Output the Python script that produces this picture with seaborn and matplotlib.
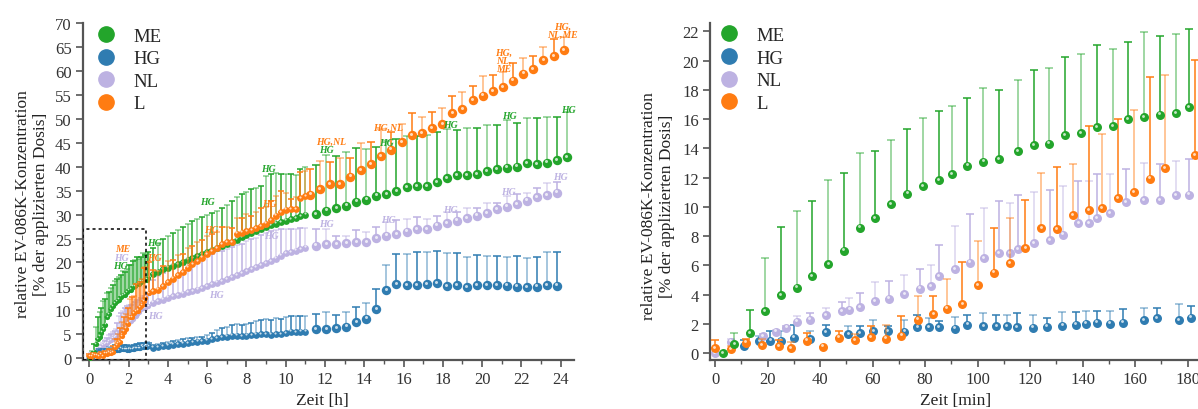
import matplotlib
matplotlib.use('Agg')
import matplotlib.pyplot as plt
import matplotlib.transforms as mtransforms
from matplotlib.lines import Line2D
from matplotlib.patches import Rectangle
from matplotlib.ticker import MultipleLocator
import numpy as np
import pandas as pd
import seaborn as sns

# ---------------- data: first 3 h (minutes) ----------------
me_t = [3.0, 7.4, 13.2, 18.9, 25.1, 31.1, 37.0, 43.2, 49.1, 55.1, 61.0, 67.1, 73.3, 79.1, 85.2, 90.2,
        96.1, 102.2, 108.1, 115.2, 121.3, 127.3, 133.1, 139.2, 145.4, 151.4, 157.2, 163.5, 169.4, 175.4, 180.5]
me_v = [0.0, 0.64, 1.37, 2.89, 3.96, 4.48, 5.28, 6.08, 7.01, 8.58, 9.24, 10.18, 10.9, 11.43, 11.84, 12.25,
        12.81, 13.09, 13.27, 13.8, 14.2, 14.32, 14.91, 15.05, 15.46, 15.53, 16.0, 16.14, 16.3, 16.39, 16.8]
me_e = [0.0, 0.77, 1.59, 3.62, 4.69, 5.24, 5.15, 5.78, 5.28, 5.12, 4.6, 4.41, 4.4, 4.64, 4.69, 4.66,
        4.65, 5.05, 4.73, 4.89, 5.17, 5.18, 5.31, 5.4, 5.58, 5.28, 5.24, 5.79, 5.35, 5.4, 5.33]

hg_t = [10.9, 16.9, 21.1, 25.1, 30.1, 36.3, 42.3, 50.8, 55.1, 60.3, 66.0, 72.1, 77.1, 81.4, 85.2, 91.3,
        96.1, 102.2, 107.2, 111.3, 115.1, 121.2, 126.3, 132.3, 137.4, 141.3, 145.5, 150.3, 155.4, 163.5,
        168.4, 176.6, 181.4]
hg_v = [0.52, 0.82, 0.86, 0.86, 1.07, 0.96, 1.45, 1.32, 1.39, 1.5, 1.5, 1.48, 1.78, 1.78, 1.78, 1.69,
        1.96, 1.87, 1.87, 1.85, 1.78, 1.76, 1.82, 1.89, 1.96, 2.03, 2.1, 2.01, 2.1, 2.28, 2.41, 2.26, 2.44]
hg_e = [0.38, 0.38, 0.64, 0.69, 0.84, 0.54, 0.48, 0.55, 0.48, 0.74, 0.39, 0.77, 0.86, 0.61, 0.45, 0.77,
        0.64, 0.86, 0.77, 0.75, 0.95, 0.84, 0.61, 0.91, 0.84, 0.84, 0.79, 0.88, 0.95, 0.79, 0.7, 1.13, 0.77]

nl_t = [0.0, 6.1, 18.2, 23.1, 27.2, 31.1, 36.2, 42.2, 48.2, 51.2, 55.1, 61.0, 66.2, 72.1, 78.1, 82.1,
        85.2, 91.4, 97.1, 102.3, 108.2, 112.2, 115.2, 121.3, 127.4, 132.4, 138.4, 142.4, 145.4, 150.3,
        156.4, 163.5, 169.4, 175.4, 180.5]
nl_v = [0.0, 0.8, 1.16, 1.48, 1.75, 2.16, 2.3, 2.62, 2.87, 2.98, 3.14, 3.57, 3.72, 4.05, 4.41, 4.57,
        5.26, 5.74, 6.19, 6.5, 6.85, 6.85, 7.12, 7.51, 7.72, 8.1, 8.88, 8.88, 9.24, 9.56, 10.33, 10.45,
        10.45, 10.81, 10.84]
nl_e = [0.0, 0.2, 0.14, 0.1, 0.1, 0.41, 0.43, 0.45, 0.61, 0.82, 1.0, 1.29, 1.22, 1.32, 1.33, 1.49,
        2.14, 2.98, 3.3, 3.45, 3.58, 3.42, 3.67, 3.53, 3.46, 3.31, 2.92, 2.92, 2.98, 2.66, 2.24, 2.57,
        2.5, 2.35, 2.41]

l_t = [0.0, 6.1, 11.8, 18.0, 24.2, 29.0, 35.1, 41.2, 47.2, 53.2, 59.3, 65.0, 71.0, 77.2, 83.2, 88.2,
       94.2, 100.2, 106.3, 112.4, 118.2, 124.3, 130.3, 136.3, 142.4, 147.2, 153.4, 159.4, 165.5, 171.2, 182.9]
l_v = [0.36, 0.29, 0.73, 0.55, 0.5, 0.34, 0.86, 0.45, 1.07, 0.91, 1.1, 0.99, 1.2, 2.3, 2.68, 3.05,
       3.35, 4.64, 5.5, 6.15, 7.19, 8.54, 8.49, 9.45, 9.77, 9.9, 10.61, 11.0, 11.93, 12.66, 13.52]
l_e = [0.55, 0.2, 0.27, 0.45, 0.4, 0.46, 0.51, 0.0, 0.45, 0.39, 0.77, 0.94, 1.37, 1.64, 1.22, 2.02,
       2.86, 3.01, 3.08, 3.07, 3.26, 3.76, 4.23, 3.5, 5.78, 5.08, 5.37, 5.64, 6.97, 6.34, 6.54]

# ---------------- data: 3-11 h (hours, 15 min steps) ----------------
t_mid = [3.25, 3.5, 3.75, 4.0, 4.25, 4.5, 4.75, 5.0, 5.25, 5.5, 5.75, 6.0, 6.25, 6.5, 6.75, 7.0,
         7.25, 7.5, 7.75, 8.0, 8.25, 8.5, 8.75, 9.0, 9.25, 9.5, 9.75, 10.0, 10.25, 10.5, 10.75, 11.0]
me_mid = [17.6, 18.1, 18.6, 18.9, 19.3, 19.7, 20.1, 20.6, 20.9, 21.3, 21.7, 22.2, 22.7, 23.1, 23.5, 23.8,
          24.3, 24.8, 25.3, 25.8, 26.1, 26.6, 27.0, 27.4, 27.8, 28.1, 28.4, 28.7, 29.0, 29.3, 29.7, 30.0]
me_mid_e = [5.4, 5.9, 6.4, 6.7, 6.9, 7.1, 7.3, 7.4, 7.7, 7.7, 7.8, 7.7, 7.7, 7.7, 7.8, 8.2,
            8.5, 8.8, 9.0, 9.0, 9.2, 9.0, 9.0, 10.6, 10.8, 10.6, 10.2, 9.8, 9.4, 9.0, 9.8, 10.0]
hg_mid = [2.2, 2.3, 2.5, 2.6, 2.8, 2.9, 3.0, 3.1, 3.3, 3.4, 3.5, 3.6, 3.9, 4.2, 4.4, 4.5,
          4.7, 4.7, 4.6, 4.7, 4.8, 4.9, 5.0, 5.0, 4.9, 5.0, 5.0, 5.2, 5.5, 5.4, 5.5, 5.5]
hg_mid_e = [0.5, 0.6, 0.6, 0.7, 0.8, 0.8, 0.9, 1.0, 0.9, 1.1, 1.0, 1.2, 1.4, 1.6, 1.8, 2.0,
            2.3, 2.4, 2.3, 2.4, 2.6, 2.8, 3.0, 3.2, 3.0, 3.3, 3.1, 3.3, 3.4, 3.3, 3.3, 3.3]
nl_mid = [11.6, 11.9, 12.2, 12.6, 13.0, 13.2, 13.5, 13.8, 14.0, 14.3, 14.6, 15.0, 15.4, 15.8, 16.1, 16.5,
          16.9, 17.3, 17.7, 18.2, 18.6, 19.0, 19.4, 19.8, 20.3, 20.8, 21.4, 21.9, 22.2, 22.5, 22.8, 23.1]
nl_mid_e = [4.8, 5.2, 5.6, 6.0, 6.0, 6.2, 6.0, 6.4, 6.3, 6.5, 6.2, 6.4, 6.3, 6.5, 6.2, 6.4,
            6.3, 6.4, 6.2, 6.3, 6.4, 6.2, 6.3, 6.4, 6.2, 6.0, 5.5, 5.2, 4.8, 4.6, 4.4, 4.2]
l_mid = [14.0, 14.3, 15.0, 15.9, 16.6, 17.3, 18.0, 18.9, 19.6, 20.3, 21.0, 21.7, 22.4, 23.0, 23.8, 24.3,
         24.3, 26.0, 26.2, 26.5, 26.7, 27.2, 27.6, 28.1, 28.9, 29.8, 30.5, 31.0, 31.2, 31.2, 33.5, 33.8]
l_mid_e = [4.5, 4.0, 4.2, 4.5, 4.0, 4.3, 3.8, 4.2, 3.9, 4.0, 3.6, 3.8, 3.5, 3.3, 3.6, 3.2,
           3.0, 3.4, 3.2, 3.6, 3.0, 3.4, 3.8, 3.6, 4.0, 4.2, 4.5, 3.5, 2.0, 2.5, 5.5, 5.3]

# ---------------- data: 11.5-24.4 h (hours, 30 min steps) ----------------
t_late = [11.55, 12.07, 12.58, 13.09, 13.6, 14.11, 14.62, 15.13, 15.64, 16.15, 16.66, 17.17, 17.68,
          18.19, 18.7, 19.21, 19.72, 20.23, 20.74, 21.25, 21.76, 22.27, 22.78, 23.29, 23.8, 24.31]
t_late_l = [11.26, 11.76, 12.27, 12.78, 13.29, 13.81, 14.32, 14.83, 15.34, 15.9, 16.42, 16.93, 17.46,
            17.98, 18.49, 19.0, 19.52, 20.03, 20.54, 21.05, 21.58, 22.1, 22.6, 23.12, 23.65, 24.18]
me_late = [30.1, 30.8, 31.3, 31.9, 32.7, 33.1, 33.95, 34.3, 34.9, 35.8, 36.0, 36.0, 36.8,
           37.6, 38.3, 38.3, 38.4, 39.1, 39.5, 39.8, 40.0, 40.7, 40.6, 40.9, 41.4, 42.0]
me_late_e = [10.3, 11.7, 11.0, 11.1, 11.2, 10.6, 10.25, 11.2, 10.9, 10.7, 10.5, 10.6, 10.4,
             10.3, 9.5, 9.8, 9.7, 9.7, 9.3, 10.0, 9.2, 9.5, 9.6, 9.6, 9.1, 9.4]
hg_late = [6.1, 6.1, 6.3, 6.6, 7.5, 8.2, 10.2, 14.2, 15.5, 15.3, 15.3, 15.5, 15.6,
           15.0, 15.3, 14.8, 15.3, 15.3, 15.3, 15.1, 14.9, 14.8, 14.9, 15.2, 15.1]
hg_late_e = [3.2, 3.5, 2.8, 3.1, 3.2, 3.3, 4.2, 5.3, 6.2, 6.4, 6.9, 6.7, 6.7,
             6.9, 6.6, 6.3, 6.3, 6.1, 6.1, 6.1, 6.4, 6.2, 6.2, 6.9, 7.1]
nl_late = [23.5, 23.8, 23.8, 24.0, 24.3, 24.3, 25.1, 25.6, 25.9, 26.4, 27.0, 27.0, 27.7,
           28.2, 28.7, 29.2, 29.8, 30.3, 31.2, 31.7, 32.2, 32.9, 33.7, 34.1, 34.6]
nl_late_e = [3.5, 3.2, 1.8, 1.6, 2.5, 2.1, 2.4, 2.9, 2.9, 2.7, 2.5, 2.1, 2.1,
             2.4, 1.9, 2.1, 1.5, 2.1, 1.2, 2.2, 2.2, 1.6, 1.8, 2.5, 2.3]
l_late = [34.2, 35.3, 36.4, 36.4, 37.9, 39.3, 40.6, 42.2, 43.6, 45.1, 46.6, 47.0, 48.1,
          48.9, 51.2, 52.1, 54.0, 54.9, 55.8, 56.7, 58.0, 59.5, 60.4, 62.3, 63.2, 64.4]
l_late_e = [5.3, 6.0, 4.7, 5.4, 3.9, 5.6, 4.6, 5.8, 3.7, 3.8, 4.6, 3.5, 3.3,
            3.5, 3.7, 3.5, 3.0, 4.1, 3.4, 3.1, 3.8, 3.2, 2.8, 2.8, 3.5, 2.7]

gruppen = ['ME', 'HG', 'NL', 'L']
farben = {'ME': '#23a52b', 'HG': '#2f7cb1', 'NL': '#bdb2e2', 'L': '#ff7c12'}

# Signifikanzen (Text, x, y, Gruppe fuer die Farbe)
sig_links = [('ME', 1.68, 23.0, 'L'), ('HG', 1.62, 21.1, 'NL'), ('HG', 1.58, 19.3, 'ME'),
             ('HG', 3.3, 24.2, 'ME'), ('HG', 3.3, 21.1, 'L'), ('HG', 3.35, 9.0, 'NL'),
             ('HG', 6.0, 32.8, 'ME'), ('HG', 6.2, 26.8, 'L'), ('HG', 6.45, 13.2, 'NL'),
             ('HG', 9.1, 39.7, 'ME'), ('HG', 9.15, 32.4, 'L'), ('HG', 9.25, 25.6, 'NL'),
             ('HG', 12.07, 43.6, 'ME'), ('HG,NL', 12.3, 45.4, 'L'), ('HG', 12.07, 28.2, 'NL'),
             ('HG', 15.15, 45.0, 'ME'), ('HG,NL', 15.2, 48.3, 'L'), ('HG', 15.25, 28.9, 'NL'),
             ('HG', 18.4, 48.9, 'ME'), ('HG', 18.4, 31.0, 'NL'),
             ('HG', 21.4, 50.7, 'ME'), ('HG,\nNL,\nME', 21.1, 62.3, 'L'), ('HG', 21.35, 34.8, 'NL'),
             ('HG', 24.4, 51.9, 'ME'), ('HG,\nNL,ME', 24.1, 68.5, 'L'), ('HG', 24.0, 37.9, 'NL')]

sns.set_style('ticks')
plt.rcParams['font.family'] = ['Liberation Serif', 'DejaVu Serif']


def kugeln(ax, fig, x, y, farbe, groesse, z=3):
    # Punkt mit kleinem Glanzlicht, damit es wie eine Kugel aussieht
    df = pd.DataFrame({'x': x, 'y': y})
    sns.scatterplot(data=df, x='x', y='y', ax=ax, color=farbe, s=groesse, linewidth=0, zorder=z, legend=False)
    glanz = mtransforms.offset_copy(ax.transData, fig=fig, x=-0.6, y=1.0, units='points')
    ax.scatter(x, y, s=groesse * 0.1, color='white', alpha=0.75, linewidth=0, transform=glanz, zorder=z + 0.1)


def fehler(ax, x, y, e, farbe, cap, z=2):
    x = np.asarray(x); y = np.asarray(y); e = np.asarray(e)
    for sl, a in ((slice(0, None, 2), 1.0), (slice(1, None, 2), 0.55)):
        ax.errorbar(x[sl], y[sl], yerr=[np.zeros_like(e[sl]), e[sl]], fmt='none', ecolor=farbe,
                    elinewidth=1.1, capsize=cap, capthick=1.1, alpha=a, zorder=z)


def achse(ax):
    for s in ['top', 'right']:
        ax.spines[s].set_visible(False)
    for s in ['left', 'bottom']:
        ax.spines[s].set_linewidth(1.6)
        ax.spines[s].set_color('#555555')
    ax.tick_params(which='major', direction='out', length=5, width=1.2, color='#555555',
                   labelsize=12, labelcolor='#333333', pad=3)
    ax.tick_params(which='minor', direction='out', length=3, width=1.0, color='#555555')


def legende(ax, x0, y0):
    handles = [Line2D([], [], marker='o', ls='', color=farben[g], markersize=11) for g in gruppen]
    ax.legend(handles, gruppen, loc='upper left', bbox_to_anchor=(x0, y0), frameon=False,
              fontsize=13.5, handletextpad=0.85, labelspacing=0.29, borderaxespad=0, handlelength=1.2)


fig = plt.figure(figsize=(11.98, 4.10), dpi=100)

# ---------------- left panel: 24 h ----------------
ax1 = fig.add_axes([0.069, 0.12, 0.410, 0.8205])
frueh = {'ME': (me_t, me_v, me_e), 'HG': (hg_t, hg_v, hg_e), 'NL': (nl_t, nl_v, nl_e), 'L': (l_t, l_v, l_e)}
mitte = {'ME': (me_mid, me_mid_e), 'HG': (hg_mid, hg_mid_e), 'NL': (nl_mid, nl_mid_e), 'L': (l_mid, l_mid_e)}
spaet = {'ME': (t_late, me_late, me_late_e), 'HG': (t_late[:25], hg_late, hg_late_e),
         'NL': (t_late[:25], nl_late, nl_late_e), 'L': (t_late_l, l_late, l_late_e)}
for i, g in enumerate(['NL', 'HG', 'ME', 'L']):
    c = farben[g]
    tf, vf, ef = frueh[g]
    th = np.asarray(tf) / 60.0
    fehler(ax1, th, vf, ef, c, 2.0, z=2 + i)
    kugeln(ax1, fig, th, vf, c, 14, z=2.5 + i)
    vm, em = mitte[g]
    fehler(ax1, t_mid, vm, em, c, 2.3, z=2 + i)
    kugeln(ax1, fig, t_mid, vm, c, 24, z=2.5 + i)
    tl, vl, el = spaet[g]
    fehler(ax1, tl, vl, el, c, 3.0, z=2 + i)
    kugeln(ax1, fig, tl, vl, c, 46, z=2.5 + i)

for txt, x, y, g in sig_links:
    ax1.text(x, y, txt, color=farben[g], fontsize=7, style='italic', weight='bold',
             ha='center', va='center', linespacing=0.9, zorder=10)

ax1.add_patch(Rectangle((-0.3, -0.3), 3.2, 27.3, fill=False, ls=(0, (2, 2)), lw=1.1, color='black', zorder=12))
ax1.set_xlim(-0.34, 24.67)
ax1.set_ylim(-0.36, 70)
ax1.xaxis.set_major_locator(MultipleLocator(2))
ax1.xaxis.set_minor_locator(MultipleLocator(1))
ax1.yaxis.set_major_locator(MultipleLocator(5))
achse(ax1)
ax1.set_xlabel('Zeit [h]', fontsize=12.5, color='#222222')
ax1.xaxis.set_label_coords(0.488, -0.095)
ax1.set_ylabel('relative EV-086K-Konzentration\n[% der applizierten Dosis]', fontsize=12.5,
               color='#222222', linespacing=1.15)
ax1.yaxis.set_label_coords(-0.068, 0.465)
legende(ax1, 0.009, 1.01)

# ---------------- right panel: 3 h ----------------
ax2 = fig.add_axes([0.5927, 0.1195, 0.4118, 0.821])
for i, g in enumerate(['HG', 'NL', 'L', 'ME']):
    c = farben[g]
    tf, vf, ef = frueh[g]
    fehler(ax2, tf, vf, ef, c, 3.0, z=2 + i)
    kugeln(ax2, fig, tf, vf, c, 42, z=2.5 + i)
ax2.set_xlim(-1.9, 186)
ax2.set_ylim(-0.46, 22.54)
ax2.xaxis.set_major_locator(MultipleLocator(20))
ax2.xaxis.set_minor_locator(MultipleLocator(10))
ax2.yaxis.set_major_locator(MultipleLocator(2))
achse(ax2)
ax2.set_xlabel('Zeit [min]', fontsize=12.5, color='#222222')
ax2.xaxis.set_label_coords(0.497, -0.095)
ax2.set_ylabel('relative EV-086K-Konzentration\n[% der applizierten Dosis]', fontsize=12.5,
               color='#222222', linespacing=1.15)
ax2.yaxis.set_label_coords(-0.072, 0.46)
legende(ax2, 0.0, 1.012)

plt.savefig('out.png', dpi=100)
